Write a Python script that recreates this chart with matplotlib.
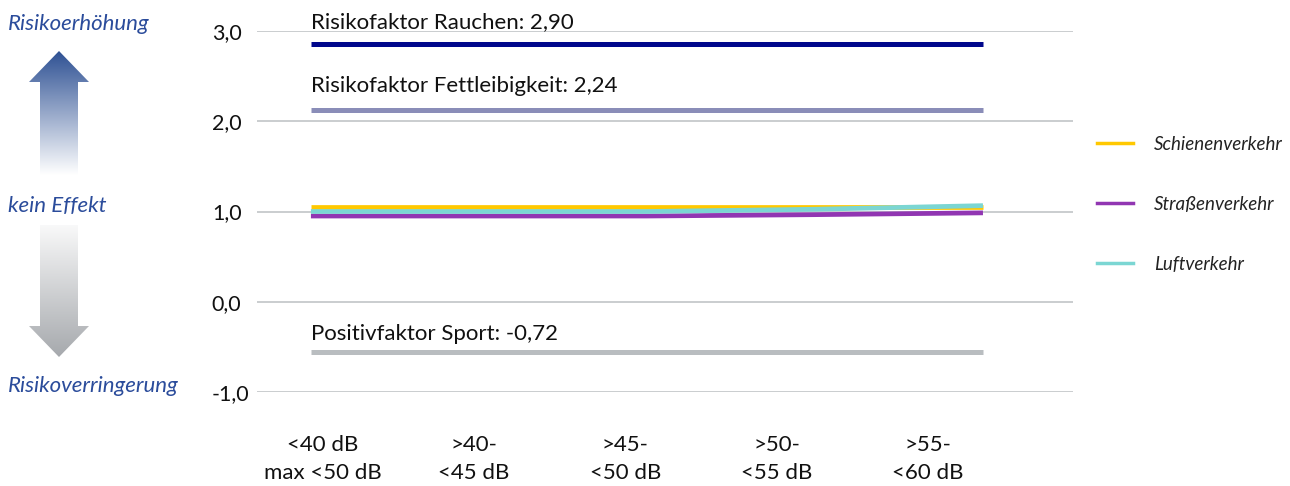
import numpy as np
import matplotlib
matplotlib.use("Agg")
import matplotlib.pyplot as plt
from matplotlib.patches import Polygon
from matplotlib.lines import Line2D

plt.rcParams['font.family'] = ['Lato', 'DejaVu Sans']

# Daten
kategorien = ['<40 dB\nmax <50 dB', '>40-\n<45 dB', '>45-\n<50 dB', '>50-\n<55 dB', '>55-\n<60 dB']
schiene = [1.055, 1.055, 1.055, 1.055, 1.055]
strasse = [0.95, 0.95, 0.95, 0.965, 0.985]
luft = [1.0, 1.0, 1.0, 1.025, 1.065]

faktor_namen = ['Risikofaktor Rauchen: 2,90', 'Risikofaktor Fettleibigkeit: 2,24',
                'Positivfaktor Sport: -0,72']
faktor_werte = [2.86, 2.13, -0.56]
faktor_farben = ['#00078c', '#8a8db8', '#b9bdc0']
faktor_text_y = [3.03, 2.32, -0.42]

yticks = [-1, 0, 1, 2, 3]
ytick_labels = ['-1,0', '0,0', '1,0', '2,0', '3,0']

W, H = 1290, 486
fig = plt.figure(figsize=(W / 100, H / 100), dpi=100)

ax = fig.add_axes([257 / W, 1 - 392 / H, (1073 - 257) / W, (392 - 31) / H])
ax.set_xlim(-0.321, 4.536)
ax.set_ylim(-1, 3)
for s in ax.spines.values():
    s.set_visible(False)

for y in yticks:
    ax.axhline(y, color='#c6c9cc', lw=1.3, zorder=1)

x = np.arange(len(kategorien))
for wert, farbe, name, ty in zip(faktor_werte, faktor_farben, faktor_namen, faktor_text_y):
    ax.plot([x[0], x[-1]], [wert, wert], color=farbe, lw=3.6, solid_capstyle='butt', zorder=3)
    ax.text(x[0], ty, name, fontsize=16, color='#111111', va='baseline', ha='left')

ax.plot(x, schiene, color='#ffc800', lw=3.4, solid_capstyle='butt', zorder=3)
ax.plot(x, strasse, color='#9136b2', lw=3.4, solid_capstyle='butt', zorder=4)
ax.plot(x, luft, color='#7bd6d3', lw=3.4, solid_capstyle='butt', zorder=5)

ax.set_yticks(yticks)
ax.set_yticklabels(ytick_labels, fontsize=15.5, color='#111111', ha='left')
ax.tick_params(axis='y', length=0, pad=32.5)

tick_pos = np.linspace(0.071, 3.673, len(kategorien))
ax.set_xticks(tick_pos)
ax.set_xticklabels(kategorien, fontsize=16, color='#111111', linespacing=1.5)
ax.tick_params(axis='x', length=0, pad=31)

# Legende
handles = [Line2D([], [], color='#ffc800', lw=2.5),
           Line2D([], [], color='#9136b2', lw=2.5),
           Line2D([], [], color='#7bd6d3', lw=2.5)]
leg = fig.legend(handles, ['Schienenverkehr', 'Straßenverkehr', 'Luftverkehr'],
                 loc='upper left', bbox_to_anchor=(1097 / W, 1 - 136 / H),
                 frameon=False, prop={'style': 'italic', 'size': 13.5},
                 labelspacing=2.28, handlelength=1.92, handletextpad=1.12,
                 borderpad=0, borderaxespad=0)
for t in leg.get_texts():
    t.set_color('#222222')

# linke Seite: Pfeile und Beschriftungen
ov = fig.add_axes([0, 0, 1, 1], zorder=-1)
ov.set_xlim(0, W)
ov.set_ylim(H, 0)
ov.axis('off')

blau = '#2b4c9b'
ov.text(8, 24, 'Risikoerhöhung', fontsize=16, style='italic', color=blau, va='center')
ov.text(8, 206, 'kein Effekt', fontsize=16, style='italic', color=blau, va='center')
ov.text(8, 386, 'Risikoverringerung', fontsize=16, style='italic', color=blau, va='center')

def grad_pfeil(punkte, y0, y1, farbe_oben, farbe_unten):
    poly = Polygon(punkte, closed=True, facecolor='none', edgecolor='none')
    ov.add_patch(poly)
    c0 = np.array(matplotlib.colors.to_rgb(farbe_oben))
    c1 = np.array(matplotlib.colors.to_rgb(farbe_unten))
    t = np.linspace(0, 1, 256)[:, None]
    img = (c0 * (1 - t) + c1 * t)[:, None, :]
    im = ov.imshow(img, extent=[20, 100, y1, y0], aspect='auto', interpolation='bilinear')
    im.set_clip_path(poly)

grad_pfeil([(59, 51), (89, 82), (78, 82), (78, 185), (40, 185), (40, 82), (29, 82)],
           51, 175, '#2d5093', '#ffffff')
grad_pfeil([(40, 225), (78, 225), (78, 326), (89, 326), (59, 357), (29, 326), (40, 326)],
           215, 357, '#ffffff', '#a6a9ad')
ov.set_xlim(0, W)
ov.set_ylim(H, 0)

fig.savefig('out.png', dpi=100)
